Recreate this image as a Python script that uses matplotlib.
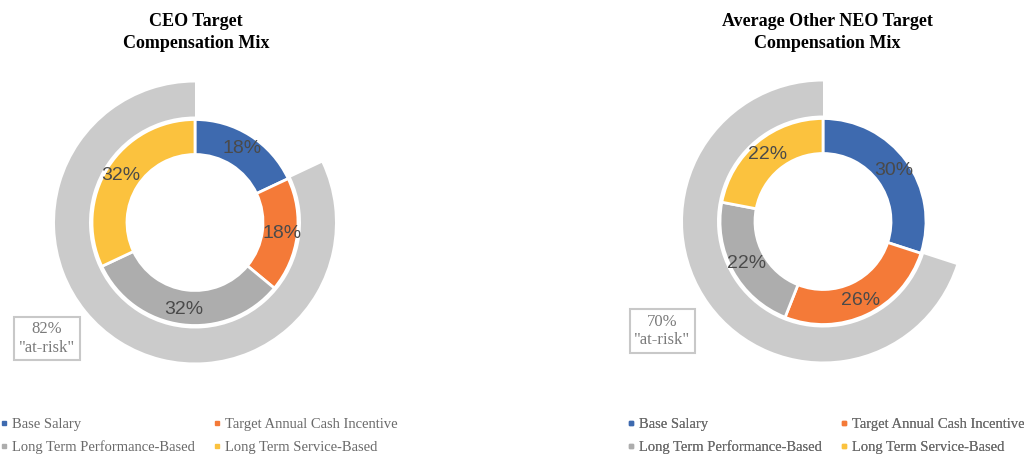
import matplotlib
matplotlib.use("Agg")
import matplotlib.pyplot as plt
from matplotlib.lines import Line2D

# ---- data ----
categories = ["Base Salary", "Target Annual Cash Incentive",
              "Long Term Performance-Based", "Long Term Service-Based"]
ceo_values = [18, 18, 32, 32]
neo_values = [30, 26, 22, 22]
ceo_at_risk = 82
neo_at_risk = 70
titles = ["CEO Target\nCompensation Mix", "Average Other NEO Target\nCompensation Mix"]

colors = ["#3E6AAF", "#F47A38", "#ADADAD", "#FBC23E"]
outer_color = "#CBCBCB"
label_color = "#4A4A4A"
legend_color = "#6A6A6A"

W, H = 1024, 454
fig = plt.figure(figsize=(W / 100, H / 100), dpi=100)
ax = fig.add_axes([0, 0, 1, 1])

serif = "Liberation Serif"
sans = "Liberation Sans"

panels = [
    dict(values=ceo_values, at_risk=ceo_at_risk, title=titles[0],
         center=(195, H - 222.5), title_x=196, box=(47, H - 338.5),
         legend_x=0),
    dict(values=neo_values, at_risk=neo_at_risk, title=titles[1],
         center=(823, H - 221.5), title_x=827, box=(662.5, H - 331),
         legend_x=627),
]

R_IN_OUT = 103
W_IN = 35
R_OUT = 140
W_OUT = 34

# legend fills columns first; reorder so rows read left-to-right
order = [0, 2, 1, 3]

for p in panels:
    vals = p["values"]
    cx, cy = p["center"]
    # outer "at-risk" arc: everything except base salary
    ax.pie([100 - p["at_risk"], p["at_risk"]], center=(cx, cy), radius=R_OUT,
           startangle=90, counterclock=False,
           colors=["none", outer_color],
           wedgeprops=dict(width=W_OUT, linewidth=0))
    # inner ring
    wedges, _, autotexts = ax.pie(
        vals, center=(cx, cy), radius=R_IN_OUT, startangle=90, counterclock=False,
        colors=colors, autopct=lambda v: f"{v:.0f}%", pctdistance=0.85,
        wedgeprops=dict(width=W_IN, edgecolor="white", linewidth=2),
        textprops=dict(fontsize=14, color=label_color, family=sans))
    # title
    ax.text(p["title_x"], H - 32.5, p["title"], ha="center", va="center",
            fontsize=13, fontweight="bold", family=serif, linespacing=1.4,
            color="black")
    # at-risk box
    ax.text(p["box"][0], p["box"][1], f"{p['at_risk']}%\n\"at-risk\"",
            ha="center", va="center", fontsize=12, family=serif,
            color="#7A7A7A", linespacing=1.2,
            bbox=dict(boxstyle="square,pad=0.28", fc="white", ec="#C8C8C8", lw=1.5))
    # legend
    handles = [Line2D([], [], marker="s", linestyle="none", markersize=2.6,
                      markerfacecolor=c, markeredgecolor=c) for c in colors]
    leg = ax.legend([handles[i] for i in order], [categories[i] for i in order],
                    ncol=2, frameon=False,
                    loc="upper left",
                    bbox_to_anchor=(p["legend_x"], H - 418),
                    bbox_transform=ax.transData,
                    prop=dict(family=serif, size=10.5),
                    handlelength=0.6, handletextpad=0.25,
                    columnspacing=1.2, labelspacing=0.65,
                    borderaxespad=0, borderpad=0)
    for t in leg.get_texts():
        t.set_color(legend_color)
    ax.add_artist(leg)

ax.set_xlim(0, W)
ax.set_ylim(0, H)
ax.set_aspect("auto")
ax.axis("off")

fig.savefig("out.png", dpi=100)
